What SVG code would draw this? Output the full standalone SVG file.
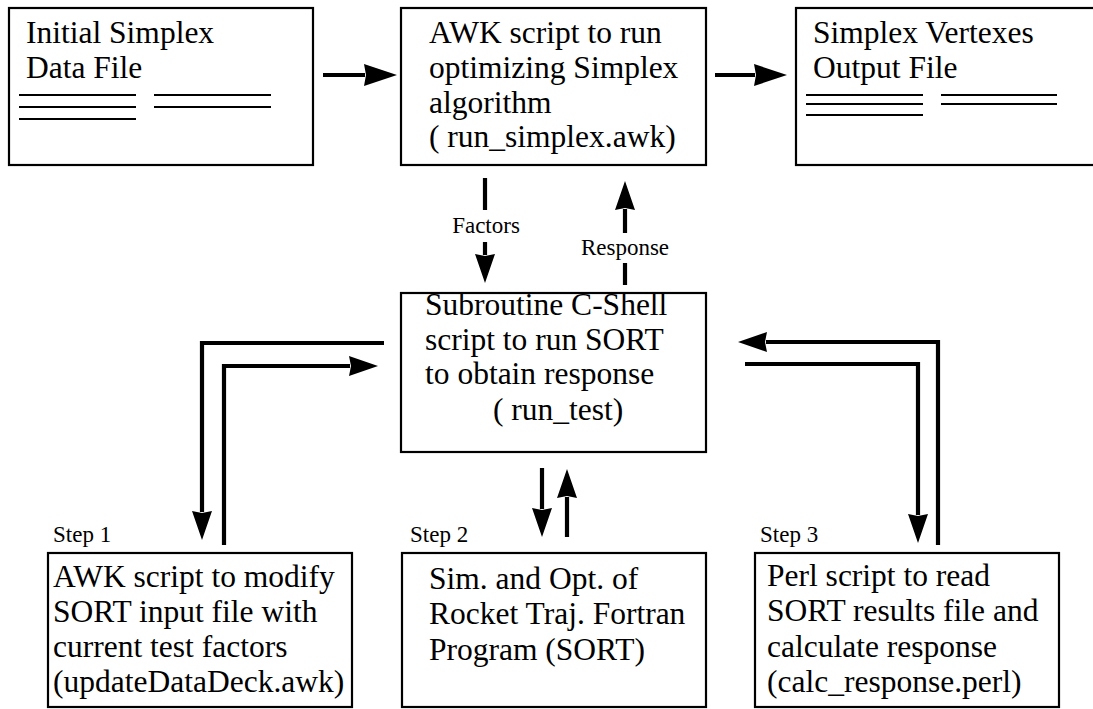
<svg xmlns="http://www.w3.org/2000/svg" width="1093" height="709" viewBox="0 0 1093 709">
<style>
.box{fill:#fff;stroke:#000;stroke-width:2.2}
.t{font-family:"Liberation Serif","Times New Roman",serif;font-size:31.5px;fill:#000}
.s{font-family:"Liberation Serif","Times New Roman",serif;font-size:23px;fill:#000}
.c{fill:none;stroke:#000;stroke-width:4.2}
.dl{stroke:#000;stroke-width:2.2}
</style>
<defs>
<marker id="big" markerUnits="userSpaceOnUse" markerWidth="36" markerHeight="24" refX="1" refY="11" orient="auto" viewBox="0 0 36 24">
<path d="M0,0 L33,11 L0,22 L2,11 z" fill="#000"/>
</marker>
<marker id="std" markerUnits="userSpaceOnUse" markerWidth="32" markerHeight="22" refX="1" refY="10" orient="auto" viewBox="0 0 32 22">
<path d="M0,0 L29,10 L0,20 L2,10 z" fill="#000"/>
</marker>
</defs>
<rect width="1093" height="709" fill="#fff"/>

<g id="initial-data">
<rect class="box" x="9" y="8" width="304" height="157"/>
<text class="t" x="26" y="43">Initial Simplex</text>
<text class="t" x="26" y="78">Data File</text>
<line class="dl" x1="19" y1="95" x2="136" y2="95"/>
<line class="dl" x1="19" y1="107" x2="136" y2="107"/>
<line class="dl" x1="19" y1="119" x2="136" y2="119"/>
<line class="dl" x1="154" y1="95" x2="271" y2="95"/>
<line class="dl" x1="154" y1="107" x2="271" y2="107"/>
</g>

<g id="awk-simplex">
<rect class="box" x="401" y="8" width="305" height="157"/>
<text class="t" x="429" y="43">AWK script to run</text>
<text class="t" x="429" y="78">optimizing Simplex</text>
<text class="t" x="429" y="113">algorithm</text>
<text class="t" x="429" y="147">( run_simplex.awk)</text>
</g>

<g id="vertexes-output">
<rect class="box" x="796" y="8" width="310" height="157"/>
<text class="t" x="813" y="43">Simplex Vertexes</text>
<text class="t" x="813" y="78">Output File</text>
<line class="dl" x1="806" y1="95" x2="923" y2="95"/>
<line class="dl" x1="806" y1="104" x2="923" y2="104"/>
<line class="dl" x1="806" y1="115" x2="923" y2="115"/>
<line class="dl" x1="941" y1="95" x2="1057" y2="95"/>
<line class="dl" x1="941" y1="104" x2="1057" y2="104"/>
</g>

<g id="run-test">
<rect class="box" x="401" y="293" width="305" height="159"/>
<text class="t" x="425" y="315">Subroutine C-Shell</text>
<text class="t" x="425" y="350">script to run SORT</text>
<text class="t" x="425" y="384">to obtain response</text>
<text class="t" x="493" y="420">( run_test)</text>
</g>

<g id="step1">
<text class="s" x="53" y="542">Step 1</text>
<rect class="box" x="48" y="553" width="304" height="154"/>
<text class="t" x="53" y="587">AWK script to modify</text>
<text class="t" x="53" y="622">SORT input file with</text>
<text class="t" x="53" y="657">current test factors</text>
<text class="t" x="53" y="692">(updateDataDeck.awk)</text>
</g>

<g id="step2">
<text class="s" x="410" y="542">Step 2</text>
<rect class="box" x="402" y="553" width="304" height="154"/>
<text class="t" x="429" y="589">Sim. and Opt. of</text>
<text class="t" x="429" y="624">Rocket Traj. Fortran</text>
<text class="t" x="429" y="660">Program (SORT)</text>
</g>

<g id="step3">
<text class="s" x="760" y="542">Step 3</text>
<rect class="box" x="755" y="553" width="304" height="154"/>
<text class="t" x="767" y="586">Perl script to read</text>
<text class="t" x="767" y="621">SORT results file and</text>
<text class="t" x="767" y="657">calculate response</text>
<text class="t" x="767" y="692">(calc_response.perl)</text>
</g>

<g id="connectors">
<path class="c" d="M323,75 H365" marker-end="url(#big)"/>
<path class="c" d="M715,75 H755" marker-end="url(#big)"/>
<path class="c" d="M485,178 V210"/>
<path class="c" d="M485,242 V255" marker-end="url(#std)"/>
<text class="s" x="486" y="233" text-anchor="middle">Factors</text>
<path class="c" d="M625,233 V209" marker-end="url(#std)"/>
<path class="c" d="M625,263 V285"/>
<text class="s" x="625" y="255" text-anchor="middle">Response</text>
<path class="c" d="M384,343 H202 V512" marker-end="url(#std)"/>
<path class="c" d="M224,545 V366 H350" marker-end="url(#std)"/>
<path class="c" d="M938,545 V342 H766" marker-end="url(#std)"/>
<path class="c" d="M745,364 H918 V515" marker-end="url(#std)"/>
<path class="c" d="M542,468 V509" marker-end="url(#std)"/>
<path class="c" d="M567,537 V497" marker-end="url(#std)"/>
</g>
</svg>
